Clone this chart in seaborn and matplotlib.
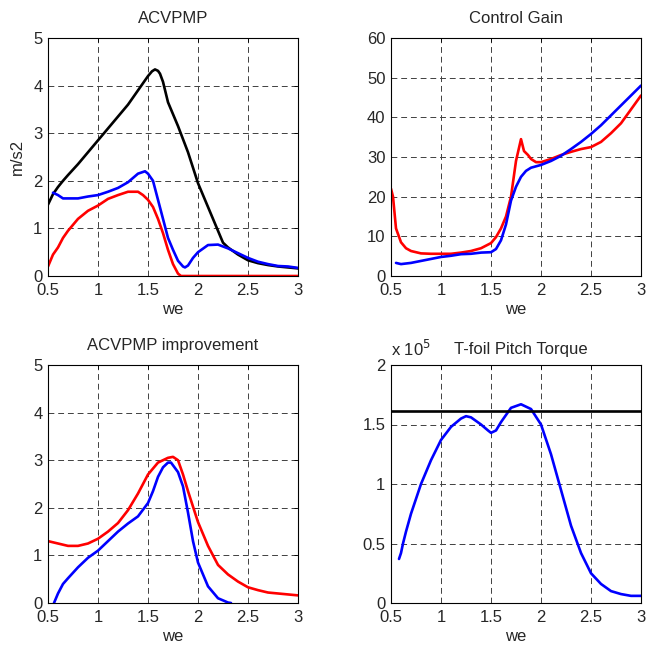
import numpy as np
import pandas as pd
import matplotlib
matplotlib.use("Agg")
import matplotlib.pyplot as plt
import seaborn as sns

# ACVPMP (m/s2)
acv_black_x = [0.5, 0.55, 0.6, 0.65, 0.7, 0.8, 0.9, 1.0, 1.1, 1.2, 1.3, 1.4, 1.45, 1.5, 1.54, 1.57, 1.6,
               1.62, 1.65, 1.7, 1.8, 1.9, 2.0, 2.1, 2.2, 2.25, 2.3, 2.4, 2.5, 2.6, 2.7, 2.8, 2.9, 3.0]
acv_black_y = [1.5, 1.72, 1.87, 2.0, 2.12, 2.35, 2.6, 2.85, 3.1, 3.35, 3.6, 3.9, 4.05, 4.2, 4.3, 4.34, 4.31,
               4.25, 4.08, 3.65, 3.15, 2.6, 1.95, 1.45, 0.95, 0.7, 0.6, 0.45, 0.33, 0.27, 0.23, 0.2, 0.18, 0.16]
acv_blue_x = [0.55, 0.6, 0.65, 0.8, 0.9, 1.0, 1.1, 1.2, 1.3, 1.4, 1.47, 1.5, 1.55, 1.6, 1.65, 1.7, 1.75,
              1.8, 1.85, 1.87, 1.9, 1.95, 2.0, 2.1, 2.2, 2.3, 2.4, 2.5, 2.6, 2.7, 2.8, 2.9, 3.0]
acv_blue_y = [1.75, 1.7, 1.63, 1.63, 1.67, 1.7, 1.77, 1.85, 1.97, 2.15, 2.2, 2.15, 2.0, 1.6, 1.2, 0.8, 0.55,
              0.32, 0.2, 0.18, 0.22, 0.38, 0.5, 0.65, 0.66, 0.58, 0.48, 0.38, 0.3, 0.25, 0.21, 0.2, 0.17]
acv_red_x = [0.5, 0.55, 0.6, 0.65, 0.7, 0.8, 0.9, 1.0, 1.1, 1.2, 1.3, 1.4, 1.45, 1.5, 1.55, 1.6, 1.65,
             1.7, 1.75, 1.8, 1.83, 2.0, 2.5, 3.0]
acv_red_y = [0.2, 0.45, 0.6, 0.8, 0.95, 1.2, 1.37, 1.48, 1.62, 1.7, 1.77, 1.77, 1.7, 1.6, 1.45, 1.2, 0.9,
             0.55, 0.25, 0.05, 0.0, 0.0, 0.0, 0.0]

# Control Gain
gain_red_x = [0.5, 0.52, 0.55, 0.6, 0.65, 0.7, 0.8, 0.9, 1.0, 1.1, 1.2, 1.3, 1.4, 1.5, 1.55, 1.6, 1.65,
              1.7, 1.75, 1.8, 1.83, 1.87, 1.9, 1.95, 2.0, 2.1, 2.2, 2.3, 2.4, 2.5, 2.6, 2.7, 2.8, 2.9, 3.0]
gain_red_y = [22, 20, 12, 8.5, 7, 6.3, 5.7, 5.6, 5.6, 5.6, 5.9, 6.3, 7.0, 8.3, 9.8, 12, 15,
              20, 29, 34.5, 31.5, 30.5, 29.5, 28.7, 28.7, 29.5, 30.5, 31.3, 32, 32.5, 33.8, 36, 38.5, 42, 45.5]
gain_blue_x = [0.55, 0.6, 0.7, 0.8, 0.9, 1.0, 1.1, 1.2, 1.3, 1.4, 1.5, 1.55, 1.6, 1.65, 1.7, 1.75, 1.8,
               1.85, 1.9, 2.0, 2.1, 2.2, 2.3, 2.4, 2.5, 2.6, 2.7, 2.8, 2.9, 3.0]
gain_blue_y = [3.3, 3.0, 3.3, 3.8, 4.3, 4.8, 5.1, 5.5, 5.6, 5.9, 6.0, 6.8, 9, 13, 19, 22.5, 25,
               26.5, 27.3, 28, 29, 30.3, 32, 33.8, 35.8, 38, 40.5, 43, 45.5, 48]

# ACVPMP improvement
imp_red_x = [0.5, 0.6, 0.7, 0.8, 0.9, 1.0, 1.1, 1.2, 1.3, 1.4, 1.5, 1.6, 1.7, 1.75, 1.8, 1.85, 1.9,
             2.0, 2.1, 2.2, 2.3, 2.4, 2.5, 2.6, 2.7, 2.8, 2.9, 3.0]
imp_red_y = [1.3, 1.25, 1.2, 1.2, 1.25, 1.35, 1.5, 1.68, 1.95, 2.3, 2.7, 2.95, 3.05, 3.07, 3.0, 2.7, 2.35,
             1.7, 1.2, 0.8, 0.6, 0.45, 0.33, 0.27, 0.22, 0.2, 0.18, 0.16]
imp_blue_x = [0.56, 0.6, 0.65, 0.7, 0.8, 0.9, 1.0, 1.1, 1.2, 1.3, 1.4, 1.5, 1.55, 1.6, 1.65, 1.7, 1.73,
              1.8, 1.85, 1.9, 1.95, 2.0, 2.05, 2.1, 2.2, 2.3, 2.33]
imp_blue_y = [0.0, 0.2, 0.4, 0.52, 0.75, 0.95, 1.1, 1.3, 1.5, 1.67, 1.82, 2.1, 2.35, 2.65, 2.85, 2.95, 2.95,
              2.75, 2.45, 1.9, 1.3, 0.85, 0.6, 0.35, 0.1, 0.01, 0.0]

# T-foil Pitch Torque (x 1e5)
torque_x = [0.58, 0.6, 0.62, 0.65, 0.7, 0.8, 0.9, 1.0, 1.1, 1.2, 1.25, 1.3, 1.4, 1.47, 1.5, 1.55, 1.6,
            1.7, 1.8, 1.9, 2.0, 2.1, 2.2, 2.3, 2.4, 2.5, 2.6, 2.7, 2.8, 2.9, 3.0]
torque_y = [0.37, 0.42, 0.5, 0.6, 0.75, 1.0, 1.2, 1.37, 1.48, 1.55, 1.57, 1.56, 1.5, 1.45, 1.43, 1.45, 1.52,
            1.64, 1.67, 1.63, 1.5, 1.25, 0.95, 0.65, 0.42, 0.25, 0.16, 0.1, 0.075, 0.06, 0.06]
torque_limit = 1.61

sns.set_theme(style="white")
plt.rcParams['font.family'] = ['Liberation Sans', 'DejaVu Sans']
plt.rcParams['xtick.direction'] = 'in'
plt.rcParams['ytick.direction'] = 'in'
plt.rcParams['xtick.major.size'] = 3
plt.rcParams['ytick.major.size'] = 3

fig = plt.figure(figsize=(6.46, 6.46), dpi=100)
W, H = 250 / 646, 238 / 646
ax1 = fig.add_axes([48 / 646, 1 - 276 / 646, W, H])
ax2 = fig.add_axes([391 / 646, 1 - 276 / 646, W, H])
ax3 = fig.add_axes([48 / 646, 1 - 603 / 646, W, H])
ax4 = fig.add_axes([391 / 646, 1 - 603 / 646, W, H])

lw = 1.9
fs = 12


def draw(ax, x, y, color):
    df = pd.DataFrame({"we": x, "val": y})
    sns.lineplot(data=df, x="we", y="val", ax=ax, color=color, lw=lw, sort=False, estimator=None)


draw(ax1, acv_black_x, acv_black_y, "black")
draw(ax1, acv_red_x, acv_red_y, "red")
draw(ax1, acv_blue_x, acv_blue_y, "blue")

draw(ax2, gain_red_x, gain_red_y, "red")
draw(ax2, gain_blue_x, gain_blue_y, "blue")

draw(ax3, imp_red_x, imp_red_y, "red")
draw(ax3, imp_blue_x, imp_blue_y, "blue")

draw(ax4, torque_x, torque_y, "blue")
ax4.axhline(torque_limit, color="black", lw=lw)

titles = ["ACVPMP", "Control Gain", "ACVPMP improvement", "T-foil Pitch Torque"]
ylims = [(0, 5), (0, 60), (0, 5), (0, 2)]
yticks = [[0, 1, 2, 3, 4, 5], [0, 10, 20, 30, 40, 50, 60], [0, 1, 2, 3, 4, 5], [0, 0.5, 1, 1.5, 2]]
ytl = [["0", "1", "2", "3", "4", "5"], ["0", "10", "20", "30", "40", "50", "60"],
       ["0", "1", "2", "3", "4", "5"], ["0", "0.5", "1", "1.5", "2"]]
xticks = [0.5, 1, 1.5, 2, 2.5, 3]
xtl = ["0.5", "1", "1.5", "2", "2.5", "3"]

for ax, t, yl, yt, ytt in zip([ax1, ax2, ax3, ax4], titles, ylims, yticks, ytl):
    ax.set_xlim(0.5, 3)
    ax.set_ylim(*yl)
    ax.set_xticks(xticks)
    ax.set_xticklabels(xtl, fontsize=fs)
    ax.set_yticks(yt)
    ax.set_yticklabels(ytt, fontsize=fs)
    ax.tick_params(top=True, right=True, color="black", width=0.6)
    ax.tick_params(axis="x", pad=5)
    ax.tick_params(axis="y", pad=4)
    ax.grid(True, color="0.25", lw=0.7, linestyle=(0, (6, 4)))
    for s in ax.spines.values():
        s.set_color("black")
        s.set_linewidth(0.8)
    ax.set_xlabel("we", fontsize=fs, labelpad=3)
    ax.set_ylabel("")
    ax.set_title(t, fontsize=fs, pad=11)

ax1.set_ylabel("m/s2", fontsize=fs, labelpad=6)
ax4.set_title("T-foil Pitch Torque", fontsize=fs, pad=8, x=0.52)
ax4.text(0.0, 1.025, r"x 10$^5$", transform=ax4.transAxes, fontsize=fs, ha="left", va="bottom")

fig.savefig("out.png", dpi=100)
